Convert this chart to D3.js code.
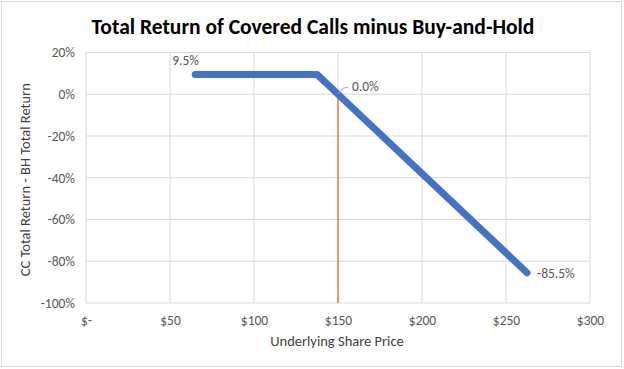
<!DOCTYPE html>
<html><head><meta charset="utf-8">
<script src="https://cdn.jsdelivr.net/npm/d3@7"></script>
<style>body{margin:0;background:#fff}svg{display:block}</style>
</head><body>
<script>
// Data
const prices = [65, 137.5, 150, 262.5];
const diffReturn = [9.5, 9.5, 0.0, -85.5];
const strikeLine = [{x:150, y:0}, {x:150, y:-100}];
const xTicks = [0, 50, 100, 150, 200, 250, 300];
const xTickLabels = ["$-", "$50", "$100", "$150", "$200", "$250", "$300"];
const yTicks = [20, 0, -20, -40, -60, -80, -100];
const labelPts = [
  {i:0, text:"9.5%"},
  {i:2, text:"0.0%"},
  {i:3, text:"-85.5%"}
];

const W = 624, H = 369;
const svg = d3.select("body").append("svg").attr("width", W).attr("height", H);
svg.append("rect").attr("x",1.5).attr("y",1.5).attr("width",W-4).attr("height",H-4)
  .attr("fill","#fff").attr("stroke","#d9d9d9");

const x = d3.scaleLinear().domain([0,300]).range([86,590]);
const y = d3.scaleLinear().domain([-100,20]).range([303,52.5]);
const font = "Calibri, Carlito, Lato, sans-serif";
const fs = 13.5;

svg.append("text").attr("x",313).attr("y",34).attr("text-anchor","middle")
  .attr("font-family",font).attr("font-weight","bold").attr("font-size",21.5)
  .attr("fill","#000").text("Total Return of Covered Calls minus Buy-and-Hold");

// gridlines
const g = svg.append("g");
g.selectAll(".vg").data(xTicks).enter().append("line")
  .attr("x1",d=>x(d)).attr("x2",d=>x(d)).attr("y1",y(20)).attr("y2",y(-100))
  .attr("stroke","#d9d9d9").attr("stroke-width",1);
g.selectAll(".hg").data(yTicks).enter().append("line")
  .attr("x1",x(0)).attr("x2",x(300)).attr("y1",d=>y(d)).attr("y2",d=>y(d))
  .attr("stroke","#d9d9d9").attr("stroke-width",1);

// axes labels via d3 axes
const xAxis = d3.axisBottom(x).tickValues(xTicks).tickFormat((d,i)=>xTickLabels[i]).tickSize(0).tickPadding(12);
const xa = svg.append("g").attr("transform",`translate(0,${y(-100)})`).call(xAxis);
xa.select(".domain").remove();
xa.selectAll("text").attr("font-family",font).attr("font-size",fs).attr("fill","#595959");

const yAxis = d3.axisLeft(y).tickValues(yTicks).tickFormat(d=>d+"%").tickSize(0).tickPadding(11);
const ya = svg.append("g").attr("transform",`translate(${x(0)},0)`).call(yAxis);
ya.select(".domain").remove();
ya.selectAll("text").attr("font-family",font).attr("font-size",fs).attr("fill","#595959");

svg.append("text").attr("x",337).attr("y",346).attr("text-anchor","middle")
  .attr("font-family",font).attr("font-size",14.5).attr("fill","#404040").text("Underlying Share Price");
svg.append("text").attr("transform",`translate(30,${(y(20)+y(-100))/2+2}) rotate(-90)`)
  .attr("text-anchor","middle").attr("font-family",font).attr("font-size",14.5)
  .attr("fill","#404040").text("CC Total Return - BH Total Return");

// strike line
svg.append("path").datum(strikeLine)
  .attr("d", d3.line().x(d=>x(d.x)).y(d=>y(d.y)))
  .attr("stroke","#ED7D31").attr("stroke-width",1.5).attr("fill","none");

// main line
const pts = prices.map((p,i)=>({x:p, y:diffReturn[i]}));
svg.append("path").datum(pts)
  .attr("d", d3.line().x(d=>x(d.x)).y(d=>y(d.y)))
  .attr("stroke","#4472C4").attr("stroke-width",7).attr("fill","none")
  .attr("stroke-linecap","round").attr("stroke-linejoin","round");

// data labels
const p0 = pts[labelPts[0].i];
svg.append("text").attr("x",x(p0.x)-23).attr("y",y(p0.y)-9).attr("font-family",font)
  .attr("font-size",fs).attr("fill","#595959").text(labelPts[0].text);
const p2 = pts[labelPts[1].i];
svg.append("path").attr("d",`M${x(p2.x)},${y(p2.y)} L${x(p2.x)+5},${y(p2.y)-6} L${x(p2.x)+10},${y(p2.y)-7}`)
  .attr("stroke","#a6a6a6").attr("fill","none").attr("stroke-width",1);
svg.append("text").attr("x",x(p2.x)+14).attr("y",y(p2.y)-3).attr("font-family",font)
  .attr("font-size",fs).attr("fill","#595959").text(labelPts[1].text);
const p3 = pts[labelPts[2].i];
svg.append("text").attr("x",x(p3.x)+10).attr("y",y(p3.y)+5).attr("font-family",font)
  .attr("font-size",fs).attr("fill","#595959").text(labelPts[2].text);
</script>
</body></html>
